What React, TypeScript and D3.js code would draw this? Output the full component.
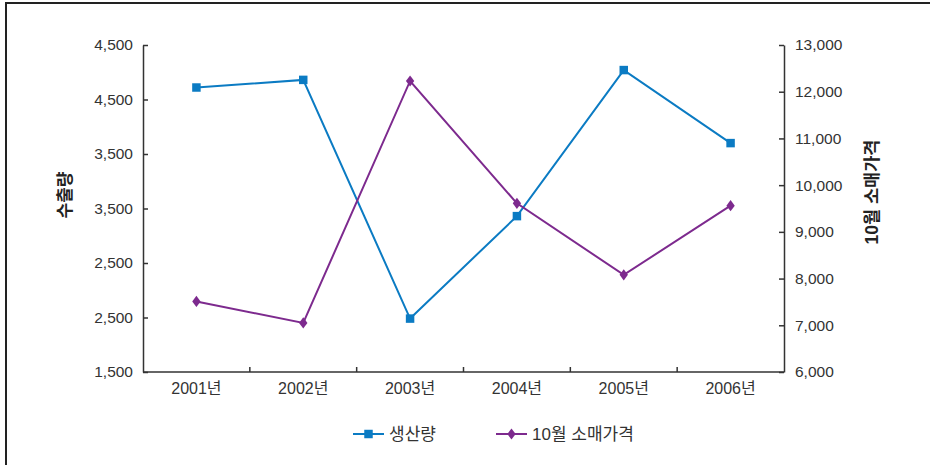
import * as d3 from "d3";
import React, { useEffect, useRef } from "react";

const years = ["2001년", "2002년", "2003년", "2004년", "2005년", "2006년"];
const production = [4110, 4180, 1990, 2930, 4270, 3600];
const retailPrice = [7510, 7050, 12230, 9610, 8080, 9560];
const leftTicks = [1500, 2000, 2500, 3000, 3500, 4000, 4500];
// labels as printed in the original figure
const leftTickLabels = ["1,500", "2,500", "2,500", "3,500", "3,500", "4,500", "4,500"];
const rightTicks = [6000, 7000, 8000, 9000, 10000, 11000, 12000, 13000];

const W = 930;
const H = 465;
const FONT = "'Liberation Sans', Arial, 'Noto Sans CJK KR', sans-serif";
const BLUE = "#0b7bc3";
const PURPLE = "#7d2a8e";
const INK = "#333";

export default function App() {
  const ref = useRef<SVGSVGElement | null>(null);

  useEffect(() => {
    const svg = d3.select(ref.current);
    svg.selectAll("*").remove();

    const m = { left: 143, right: 784, top: 45, bottom: 372 };

    const x = d3.scaleBand().domain(years).range([m.left, m.right]);
    const yL = d3.scaleLinear().domain([1500, 4500]).range([m.bottom, m.top]);
    const yR = d3.scaleLinear().domain([6000, 13000]).range([m.bottom, m.top]);
    const cx = (d) => x(d) + x.bandwidth() / 2;

    // frame
    svg
      .append("path")
      .attr("d", `M6,${H} V3 H${W}`)
      .attr("fill", "none")
      .attr("stroke", "#222")
      .attr("stroke-width", 2);

    // left axis
    const gL = svg
      .append("g")
      .attr("transform", `translate(${m.left},0)`)
      .call(
        d3
          .axisLeft(yL)
          .tickValues(leftTicks)
          .tickFormat((d, i) => leftTickLabels[i])
          .tickSizeInner(-5)
          .tickSizeOuter(0)
          .tickPadding(10)
      );

    // right axis
    const gR = svg
      .append("g")
      .attr("transform", `translate(${m.right},0)`)
      .call(
        d3
          .axisRight(yR)
          .tickValues(rightTicks)
          .tickFormat(d3.format(","))
          .tickSizeInner(-5)
          .tickSizeOuter(0)
          .tickPadding(11)
      );

    for (const g of [gL, gR]) {
      g.selectAll(".domain").attr("stroke", INK).attr("stroke-width", 1.5);
      g.selectAll(".tick line").attr("stroke", INK).attr("stroke-width", 1.5);
      g.selectAll(".tick text")
        .attr("fill", INK)
        .style("font-family", FONT)
        .style("font-size", "15.5px");
    }

    // x axis
    const gX = svg.append("g");
    gX.append("line")
      .attr("x1", m.left)
      .attr("x2", m.right)
      .attr("y1", m.bottom)
      .attr("y2", m.bottom)
      .attr("stroke", INK)
      .attr("stroke-width", 1.5);
    gX.selectAll("line.tk")
      .data(years.slice(1))
      .join("line")
      .attr("class", "tk")
      .attr("x1", (d) => x(d))
      .attr("x2", (d) => x(d))
      .attr("y1", m.bottom)
      .attr("y2", m.bottom - 5)
      .attr("stroke", INK)
      .attr("stroke-width", 1.5);
    gX.selectAll("text")
      .data(years)
      .join("text")
      .attr("x", cx)
      .attr("y", m.bottom + 22)
      .attr("text-anchor", "middle")
      .attr("fill", INK)
      .style("font-family", FONT)
      .style("font-size", "16px")
      .text((d) => d);

    // axis titles
    svg
      .append("text")
      .attr("transform", `translate(71,195) rotate(-90)`)
      .attr("text-anchor", "middle")
      .attr("fill", "#222")
      .style("font-family", FONT)
      .style("font-size", "17px")
      .style("font-weight", "bold")
      .text("수출량");
    svg
      .append("text")
      .attr("transform", `translate(878,192) rotate(-90)`)
      .attr("text-anchor", "middle")
      .attr("fill", "#222")
      .style("font-family", FONT)
      .style("font-size", "17.5px")
      .style("font-weight", "bold")
      .text("10월 소매가격");

    // lines
    const lineL = d3
      .line<number>()
      .x((d, i) => cx(years[i]))
      .y((d) => yL(d));
    const lineR = d3
      .line<number>()
      .x((d, i) => cx(years[i]))
      .y((d) => yR(d));

    svg
      .append("path")
      .attr("d", lineL(production))
      .attr("fill", "none")
      .attr("stroke", BLUE)
      .attr("stroke-width", 2);
    svg
      .append("path")
      .attr("d", lineR(retailPrice))
      .attr("fill", "none")
      .attr("stroke", PURPLE)
      .attr("stroke-width", 2);

    const sq = d3.symbol(d3.symbolSquare, 72);
    const dia = d3.symbol(d3.symbolDiamond, 50);

    svg
      .append("g")
      .selectAll("path")
      .data(retailPrice)
      .join("path")
      .attr("d", dia())
      .attr("transform", (d, i) => `translate(${cx(years[i])},${yR(d)}) scale(1.1,0.85)`)
      .attr("fill", PURPLE);
    svg
      .append("g")
      .selectAll("path")
      .data(production)
      .join("path")
      .attr("d", sq())
      .attr("transform", (d, i) => `translate(${cx(years[i])},${yL(d)})`)
      .attr("fill", BLUE);

    // legend
    const lg = svg.append("g").attr("transform", "translate(0,434)");
    const items = [
      { label: "생산량", color: BLUE, sym: sq, x: 353, sc: "" },
      { label: "10월 소매가격", color: PURPLE, sym: dia, x: 496, sc: " scale(1.1,0.85)" },
    ];
    items.forEach((it) => {
      lg.append("line")
        .attr("x1", it.x)
        .attr("x2", it.x + 31)
        .attr("stroke", it.color)
        .attr("stroke-width", 2);
      lg.append("path")
        .attr("d", it.sym())
        .attr("transform", `translate(${it.x + 15.5},0)${it.sc}`)
        .attr("fill", it.color);
      lg.append("text")
        .attr("x", it.x + 36)
        .attr("y", 6)
        .attr("fill", INK)
        .style("font-family", FONT)
        .style("font-size", "17px")
        .text(it.label);
    });
  }, []);

  return (
    <svg
      ref={ref}
      width={W}
      height={H}
      style={{ position: "absolute", left: 0, top: 0, background: "#fff" }}
    />
  );
}
